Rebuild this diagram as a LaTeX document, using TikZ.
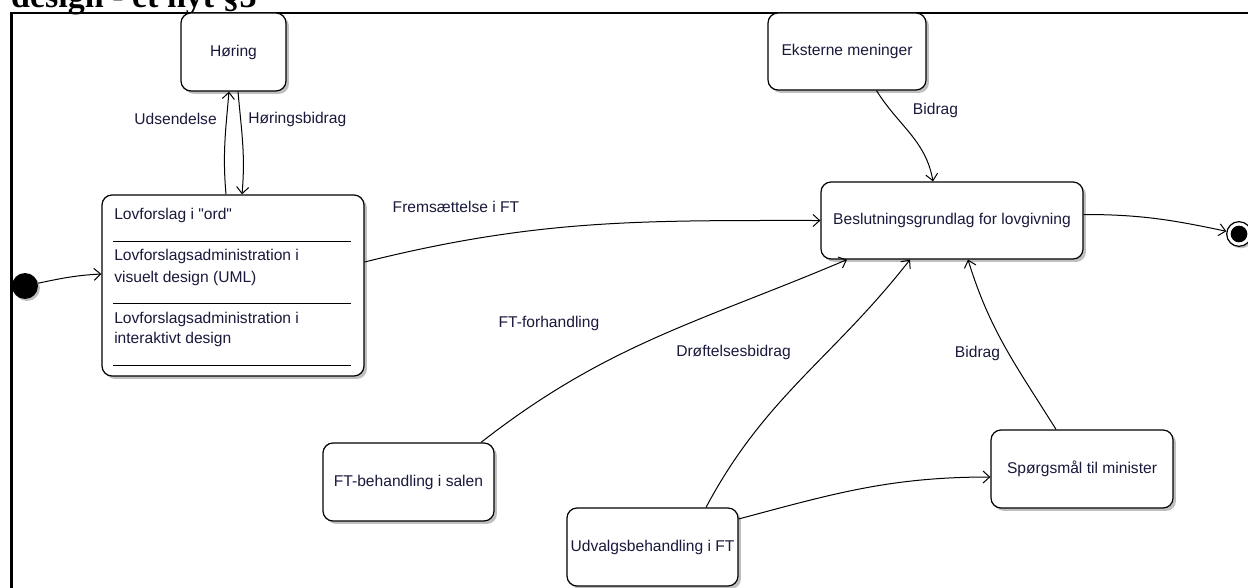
\documentclass[tikz,border=0pt]{standalone}
\usepackage{fontspec}
\setmainfont{Liberation Sans}[Ligatures=TeXOff]
\newfontfamily\headfont{Liberation Serif}
\usetikzlibrary{arrows.meta,calc,shadows}
\definecolor{txt}{RGB}{25,25,60}
\begin{document}
\begin{tikzpicture}[x=0.75pt,y=0.75pt,
  font=\fontsize{11.7}{14}\selectfont,
  statebox/.style={draw, line width=0.9pt, rounded corners=7.5pt, fill=white,
    drop shadow={shadow xshift=2.2pt, shadow yshift=-2.2pt, fill=black!25, opacity=1},
    inner sep=0pt, text=txt},
  conn/.style={line width=0.75pt, -{Straight Barb[length=5pt,width=9pt]}},
  lbl/.style={text=txt, inner sep=0pt},
  sep/.style={line width=0.75pt}]
\useasboundingbox (0,0) rectangle (1248,-588);
\clip (0,0) rectangle (1248,-588);

% heading (cut at top, as in the reference) and frame
\node[anchor=base east, inner sep=0pt, font=\headfont\bfseries\fontsize{25.5}{30}\selectfont] (head) at (257,-8) {design - et nyt §3};
\draw[line width=1.9pt] (1250,-13) -- (11.5,-13) -- (11.5,-590);

% states
\node[statebox, minimum width=78.75pt, minimum height=58.5pt] (hor) at (233.5,-52) {Høring};
\node[statebox, minimum width=196.5pt, minimum height=135.75pt] (lov) at (233,-285.5) {};
\node[statebox, minimum width=118.5pt, minimum height=57.75pt] (eks) at (847,-51.5) {Eksterne meninger};
\node[statebox, minimum width=196.5pt, minimum height=57.75pt] (bes) at (952,-220.5) {Beslutningsgrundlag for lovgivning};
\node[statebox, minimum width=128.25pt, minimum height=58.5pt] (ftb) at (408.5,-482) {FT-behandling i salen};
\node[statebox, minimum width=128.25pt, minimum height=58.5pt] (udv) at (652.5,-547) {Udvalgsbehandling i FT};
\node[statebox, minimum width=136.5pt, minimum height=58.5pt] (spm) at (1082,-469) {Spørgsmål til minister};

% compartments of the Lovforslag state
\node[lbl, anchor=base west] (l1) at (114,-219.5) {Lovforslag i "ord"};
\node[lbl, anchor=base west] (l2) at (114,-260.5) {Lovforslagsadministration i};
\node[lbl, anchor=base west] (l3) at (114,-282.5) {visuelt design (UML)};
\node[lbl, anchor=base west] (l4) at (114,-323.5) {Lovforslagsadministration i};
\node[lbl, anchor=base west] (l5) at (114,-343.5) {interaktivt design};
\draw[sep] ($(lov.north west)+(12,-47)$) -- ($(lov.north west)+(250,-47)$);
\draw[sep] ($(lov.north west)+(12,-109)$) -- ($(lov.north west)+(250,-109)$);
\draw[sep] ($(lov.north west)+(12,-171)$) -- ($(lov.north west)+(250,-171)$);

% initial and final states
\node[circle, fill=black, minimum size=19.5pt, inner sep=0pt,
  drop shadow={shadow xshift=1.5pt, shadow yshift=-1.5pt, fill=black!25, opacity=1}] (ini) at (25,-286) {};
\node[circle, draw, line width=0.9pt, fill=white, minimum size=18.5pt, inner sep=0pt,
  drop shadow={shadow xshift=1.5pt, shadow yshift=-1.5pt, fill=black!25, opacity=1}] (fin) at (1239,-234) {};
\node[circle, fill=black, minimum size=12.5pt, inner sep=0pt] (finc) at (fin) {};

% transitions
\draw[conn] (ini) to[out=12,in=183] ($(lov.west)+(0,11.5)$);
\draw[conn] ($(lov.north)+(-7,0)$) to[out=95,in=-95] ($(hor.south)+(-4.5,0)$);
\draw[conn] ($(hor.south)+(4.5,0)$) to[out=-85,in=85] ($(lov.north)+(9,0)$);
\draw[conn] ($(lov.east)+(0,23.5)$) to[out=14,in=180] (bes.west);
\draw[conn] ($(bes.east)+(0,6)$) to[out=0,in=168] (fin);
\draw[conn] ($(eks.south)+(29.5,0)$) to[out=-58,in=100] ($(bes.north)+(-19,0)$);
\draw[conn] ($(ftb.north)+(72.5,0)$) to[out=38,in=203] ($(bes.south)+(-105,0)$);
\draw[conn] ($(udv.north)+(53.5,0)$) to[out=62,in=-128] ($(bes.south)+(-42,0)$);
\draw[conn] ($(spm.north)+(-26,0)$) to[out=122,in=-73] ($(bes.south)+(16,0)$);
\draw[conn] ($(udv.east)+(0,28)$) to[out=15,in=180] ($(spm.west)+(0,-8)$);

% transition labels
\node[lbl, anchor=east] (tu) at (217,-119) {Udsendelse};
\node[lbl, anchor=west] (th) at (248,-119) {Høringsbidrag};
\node[lbl] (tf) at (456,-207) {Fremsættelse i FT};
\node[lbl] (tb1) at (935.5,-110) {Bidrag};
\node[lbl] (tfh) at (549,-323) {FT-forhandling};
\node[lbl] (td) at (733.5,-352) {Drøftelsesbidrag};
\node[lbl] (tb2) at (977.5,-353) {Bidrag};
\end{tikzpicture}
\end{document}
